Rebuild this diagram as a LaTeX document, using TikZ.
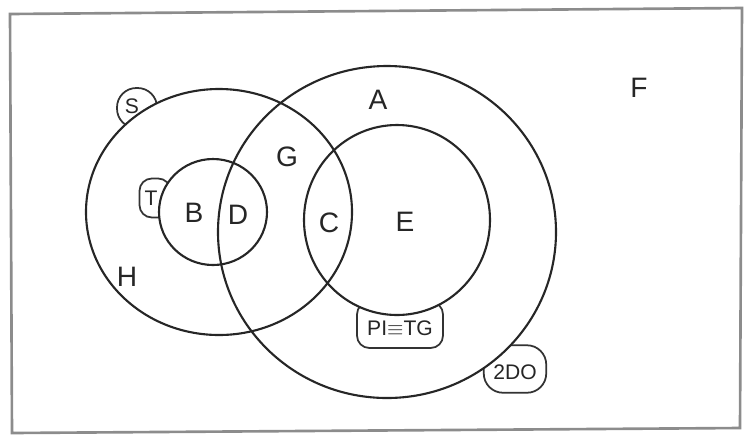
\documentclass[tikz,border=0pt]{standalone}
\usepackage{fontspec}
\setmainfont{Liberation Sans}
\usetikzlibrary{positioning}
\begin{document}
\begin{tikzpicture}[x=0.02cm,y=-0.02cm,
lbl/.style={font=\fontsize{16}{18}\selectfont,inner sep=1pt,text=black!85},
tagtext/.style={lbl,font=\fontsize{12}{14}\selectfont},
tag/.style={draw=black!80,line width=1pt,rounded corners=7pt,inner sep=0pt},
setline/.style={draw=black!85,line width=1.2pt},
blank/.style={fill=white}]
\useasboundingbox (0,0) rectangle (751,441);
\draw[draw=black!45,line width=1.5pt] (10,14) -- (742,8) -- (740,428) -- (12,433) -- cycle;
% tag outlines, each cut off where it meets its set
\node[tag,rounded corners=11pt,minimum width=1.25cm,minimum height=0.95cm] (twobox) at (515,369) {};
\fill[blank] (387,232) ellipse [x radius=169,y radius=166];
\node[tag,minimum width=1.72cm,minimum height=0.92cm] (pibox) at (400,325) {};
\fill[blank] (397,220) ellipse [x radius=93,y radius=95];
\node[tag,minimum size=0.8cm,rounded corners=11pt] (sbox) at (137,108) {};
\fill[blank] (219,212) ellipse [x radius=133,y radius=123];
\node[tag,minimum width=0.62cm,minimum height=0.78cm,rounded corners=7pt] (tbox) at (155,198) {};
\fill[blank] (213,212) ellipse [x radius=54,y radius=53];
% outlines
\draw[setline] (219,212) ellipse [x radius=133,y radius=123];
\draw[setline] (387,232) ellipse [x radius=169,y radius=166];
\draw[setline] (397,220) ellipse [x radius=93,y radius=95];
\draw[setline] (213,212) ellipse [x radius=54,y radius=53];
% tag labels
\node[tagtext] (two) at (515,372) {2DO};
\node[tagtext] (pi) at (400,328) {PI$\equiv$TG};
\node[tagtext] (st) at (132,106) {S};
\node[tagtext] (tt) at (151,198) {T};
% region letters
\node[lbl] (a) at (378,100) {A};
\node[lbl] (f) at (639,88) {F};
\node[lbl] (g) at (287,157) {G};
\node[lbl] (b) at (194,213) {B};
\node[lbl] (d) at (238,215) {D};
\node[lbl] (c) at (329,223) {C};
\node[lbl] (e) at (405,222) {E};
\node[lbl] (h) at (127,277) {H};
\end{tikzpicture}
\end{document}
